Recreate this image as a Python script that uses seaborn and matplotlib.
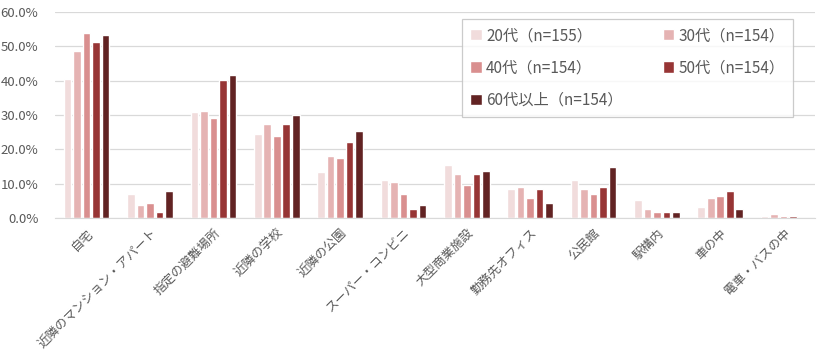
import pandas as pd
import seaborn as sns
import matplotlib.pyplot as plt
from matplotlib.ticker import FuncFormatter

places = ["自宅", "近隣のマンション・アパート", "指定の避難場所", "近隣の学校", "近隣の公園",
          "スーパー・コンビニ", "大型商業施設", "勤務先オフィス", "公民館", "駅構内",
          "車の中", "電車・バスの中"]
groups = ["20代（n=155）", "30代（n=154）", "40代（n=154）", "50代（n=154）", "60代以上（n=154）"]

age20 = [40.6, 7.1, 31.0, 24.6, 13.5, 11.2, 15.5, 8.5, 11.2, 5.3, 3.3, 0.7]
age30 = [48.7, 3.9, 31.3, 27.5, 18.2, 10.6, 12.9, 9.1, 8.5, 2.7, 5.9, 1.3]
age40 = [54.0, 4.5, 29.2, 24.0, 17.6, 7.1, 9.7, 5.9, 7.1, 1.8, 6.5, 0.7]
age50 = [51.4, 1.8, 40.3, 27.5, 22.2, 2.7, 12.9, 8.5, 9.1, 1.8, 8.0, 0.7]
age60 = [53.4, 8.0, 41.7, 30.1, 25.4, 3.9, 13.8, 4.5, 15.0, 1.8, 2.7, 0.0]

colors = ["#f1dcdc", "#e5b3b3", "#d98f8f", "#973535", "#622323"]

rows = []
for g, vals in zip(groups, [age20, age30, age40, age50, age60]):
    for p, v in zip(places, vals):
        rows.append({"place": p, "group": g, "value": v})
df = pd.DataFrame(rows)

sns.set_style("white")
plt.rcParams["font.family"] = ["Noto Sans CJK JP", "DejaVu Sans"]

fig = plt.figure(figsize=(8.21, 3.54), dpi=100)
ax = fig.add_axes([0.067, 0.384, 0.926, 0.582])

sns.barplot(data=df, x="place", y="value", hue="group", palette=colors,
            width=0.75, gap=0.2, ax=ax, saturation=1)

ax.set_ylim(0, 60)
ax.set_yticks(range(0, 61, 10))
ax.yaxis.set_major_formatter(FuncFormatter(lambda v, _: f"{v:.1f}%"))
ax.grid(axis="y", color="#d9d9d9", lw=0.9)
ax.set_axisbelow(True)
for s in ["top", "left", "right"]:
    ax.spines[s].set_visible(False)
ax.spines["bottom"].set_color("#d9d9d9")
ax.set_xlim(-0.5, len(places) - 0.5)
ax.set_xlabel("")
ax.set_ylabel("")
ax.tick_params(axis="both", length=0, colors="#595959")
ax.tick_params(axis="y", labelsize=9.5, pad=12)
plt.setp(ax.get_xticklabels(), rotation=45, ha="right", rotation_mode="anchor",
         fontsize=9, color="#595959")
ax.tick_params(axis="x", pad=6)

# row-wise order for a 2-column legend
handles, labels = ax.get_legend_handles_labels()
order = [0, 2, 4, 1, 3]
leg = ax.legend([handles[i] for i in order], [labels[i] for i in order],
                ncol=2, loc="upper left", bbox_to_anchor=(0.535, 0.968),
                frameon=True, fancybox=False, edgecolor="#bfbfbf",
                fontsize=11, labelcolor="#595959", handlelength=0.75,
                handleheight=0.75, handletextpad=0.3, labelspacing=1.0,
                columnspacing=2.6, borderpad=0.55, borderaxespad=0)
leg.get_frame().set_linewidth(0.9)

fig.savefig("out.png", dpi=100)
